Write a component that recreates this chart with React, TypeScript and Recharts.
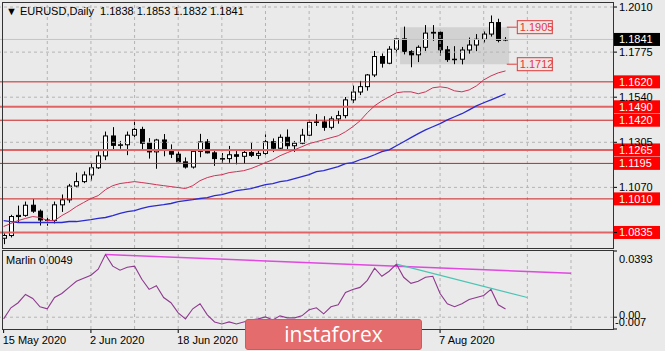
import React from "react";
import {
  ComposedChart,
  Bar,
  Line,
  XAxis,
  YAxis,
  ReferenceLine,
  ReferenceArea,
  ReferenceDot,
} from "recharts";

// EURUSD daily bars, 15 May .. 20 Aug 2020
const dates = [
  "15 May", "18 May", "19 May", "20 May", "21 May", "22 May", "25 May", "26 May", "27 May", "28 May",
  "29 May", "1 Jun", "2 Jun", "3 Jun", "4 Jun", "5 Jun", "8 Jun", "9 Jun", "10 Jun", "11 Jun",
  "12 Jun", "15 Jun", "16 Jun", "17 Jun", "18 Jun", "19 Jun", "22 Jun", "23 Jun", "24 Jun", "25 Jun",
  "26 Jun", "29 Jun", "30 Jun", "1 Jul", "2 Jul", "3 Jul", "6 Jul", "7 Jul", "8 Jul", "9 Jul",
  "10 Jul", "13 Jul", "14 Jul", "15 Jul", "16 Jul", "17 Jul", "20 Jul", "21 Jul", "22 Jul", "23 Jul",
  "24 Jul", "27 Jul", "28 Jul", "29 Jul", "30 Jul", "31 Jul", "3 Aug", "4 Aug", "5 Aug", "6 Aug",
  "7 Aug", "10 Aug", "11 Aug", "12 Aug", "13 Aug", "14 Aug", "17 Aug", "18 Aug", "19 Aug", "20 Aug",
];

const opens = [
  1.0805, 1.0819, 1.0918, 1.0924, 1.0977, 1.0946, 1.09, 1.0898, 1.0979, 1.1005,
  1.1077, 1.11, 1.1135, 1.1172, 1.1234, 1.1338, 1.1289, 1.1292, 1.1342, 1.1372,
  1.13, 1.1255, 1.1317, 1.1263, 1.1243, 1.1203, 1.1176, 1.1258, 1.1307, 1.125,
  1.122, 1.122, 1.124, 1.1232, 1.1252, 1.1237, 1.1247, 1.1308, 1.1274, 1.1331,
  1.1287, 1.13, 1.1342, 1.1409, 1.1411, 1.1383, 1.1427, 1.1444, 1.1526, 1.1567,
  1.1595, 1.1656, 1.1752, 1.1717, 1.179, 1.1844, 1.1778, 1.1761, 1.18, 1.1874,
  1.1878, 1.1787, 1.1736, 1.1738, 1.1786, 1.1812, 1.1842, 1.1869, 1.1929, 1.1838,
];
const highs = [
  1.0831, 1.0927, 1.0975, 1.0996, 1.1008, 1.0955, 1.0913, 1.0996, 1.1033, 1.1088,
  1.1147, 1.1153, 1.1197, 1.1258, 1.1361, 1.1384, 1.1312, 1.1361, 1.1422, 1.1386,
  1.1327, 1.1323, 1.1348, 1.1294, 1.1259, 1.1226, 1.127, 1.1349, 1.1322, 1.1263,
  1.1249, 1.1286, 1.1259, 1.127, 1.1303, 1.126, 1.1346, 1.1325, 1.1346, 1.1372,
  1.1312, 1.1375, 1.1421, 1.1452, 1.1441, 1.144, 1.1469, 1.1541, 1.1601, 1.1625,
  1.1661, 1.1781, 1.1768, 1.1806, 1.1846, 1.1908, 1.1785, 1.181, 1.1916, 1.1916,
  1.1885, 1.1807, 1.1806, 1.1802, 1.1851, 1.1869, 1.1883, 1.1966, 1.1949, 1.1853,
];
const lows = [
  1.0774, 1.0809, 1.0886, 1.0917, 1.0937, 1.0871, 1.087, 1.0882, 1.0942, 1.099,
  1.1067, 1.1092, 1.1105, 1.1166, 1.1212, 1.127, 1.1271, 1.1238, 1.1322, 1.1266,
  1.122, 1.1167, 1.1232, 1.1223, 1.1197, 1.1168, 1.1168, 1.1227, 1.1247, 1.1182,
  1.1198, 1.1198, 1.119, 1.1192, 1.1228, 1.1218, 1.124, 1.1254, 1.1262, 1.127,
  1.1255, 1.1295, 1.1337, 1.139, 1.1365, 1.1372, 1.1402, 1.143, 1.151, 1.1551,
  1.1574, 1.1645, 1.1694, 1.1712, 1.1754, 1.1763, 1.1696, 1.1723, 1.1781, 1.1834,
  1.1755, 1.1724, 1.1712, 1.1711, 1.1767, 1.178, 1.1825, 1.1856, 1.1826, 1.1832,
];
const closes = [
  1.0819, 1.0918, 1.0924, 1.0977, 1.0946, 1.09, 1.0898, 1.0979, 1.1005, 1.1077,
  1.11, 1.1135, 1.1172, 1.1234, 1.1338, 1.1289, 1.1292, 1.1342, 1.1372, 1.13,
  1.1255, 1.1317, 1.1263, 1.1243, 1.1203, 1.1176, 1.1258, 1.1307, 1.125, 1.122,
  1.122, 1.124, 1.1232, 1.1252, 1.1237, 1.1247, 1.1308, 1.1274, 1.1331, 1.1287,
  1.13, 1.1342, 1.1409, 1.1411, 1.1383, 1.1427, 1.1444, 1.1526, 1.1567, 1.1595,
  1.1656, 1.1752, 1.1717, 1.179, 1.1844, 1.1778, 1.1761, 1.18, 1.1874, 1.1878,
  1.1787, 1.1736, 1.1738, 1.1786, 1.1812, 1.1842, 1.1869, 1.1929, 1.1836, 1.1841,
];

// moving averages as drawn on the chart (red = fast, blue = slow)
const maFast = [
  1.0866, 1.0882, 1.0897, 1.0908, 1.0918, 1.0913, 1.0897, 1.0897, 1.0923, 1.0944,
  1.097, 1.0991, 1.1012, 1.1027, 1.1058, 1.1079, 1.109, 1.1095, 1.11, 1.1095,
  1.109, 1.1084, 1.1079, 1.1074, 1.1069, 1.1064, 1.1079, 1.1105, 1.1121, 1.1131,
  1.1136, 1.1147, 1.1152, 1.1157, 1.1168, 1.1183, 1.1199, 1.1214, 1.1235, 1.1251,
  1.1266, 1.1282, 1.1298, 1.1308, 1.1318, 1.1329, 1.1339, 1.136, 1.1386, 1.1417,
  1.1459, 1.1495, 1.1521, 1.1542, 1.1563, 1.1568, 1.1568, 1.1558, 1.1568, 1.1589,
  1.1594, 1.1589, 1.1573, 1.1568, 1.1578, 1.1599, 1.163, 1.1651, 1.1667, 1.1677,
];
const maSlow = [
  1.0897, 1.0892, 1.0887, 1.0887, 1.0887, 1.0887, 1.0887, 1.0887, 1.0887, 1.0892,
  1.0892, 1.0897, 1.0902, 1.0908, 1.0913, 1.0923, 1.0934, 1.0944, 1.0949, 1.096,
  1.097, 1.0975, 1.098, 1.0986, 1.0996, 1.1001, 1.1006, 1.1012, 1.1017, 1.1027,
  1.1032, 1.1043, 1.1053, 1.1058, 1.1064, 1.1074, 1.1084, 1.109, 1.11, 1.1105,
  1.1116, 1.1126, 1.1136, 1.1152, 1.1157, 1.1168, 1.1178, 1.1194, 1.1199, 1.1214,
  1.1225, 1.124, 1.1256, 1.1266, 1.1287, 1.1308, 1.1329, 1.135, 1.137, 1.1386,
  1.1402, 1.1422, 1.1438, 1.1454, 1.1474, 1.1495, 1.1511, 1.1526, 1.1542, 1.1558,
];

const marlin = [
  -0.001, 0.0056, 0.0086, 0.0135, 0.0111, 0.0062, 0.005, 0.0117, 0.0141, 0.0177,
  0.0213, 0.0231, 0.0249, 0.0285, 0.0372, 0.0303, 0.0279, 0.0297, 0.0303, 0.0225,
  0.0165, 0.0187, 0.0117, 0.0086, 0.0026, -0.001, 0.005, 0.008, 0.0014, -0.0028,
  -0.004, -0.0028, -0.004, -0.0028, -0.0016, -0.001, 0.0002, -0.0016, 0.0008, -0.0004,
  -0.0004, 0.0008, 0.0044, 0.0056, 0.002, 0.0062, 0.0074, 0.0147, 0.0165, 0.0177,
  0.0219, 0.0291, 0.0243, 0.0273, 0.0315, 0.0237, 0.0201, 0.0213, 0.0237, 0.0243,
  0.0141, 0.008, 0.0062, 0.008, 0.0105, 0.0117, 0.0129, 0.0165, 0.0074, 0.0049,
];

const priceTicks = [1.201, 1.1775, 1.154, 1.1305, 1.107, 1.0835];
const thinLevels = [1.162, 1.142, 1.1195, 1.101];
const thickLevels = [1.149, 1.1265, 1.0835];
const lastPrice = 1.1841;
const rangeTop = 1.1905;
const rangeBottom = 1.1712;
const marlinTicks = [0.0393, 0, -0.007];
const magentaTrend = [{ x: 14, y: 0.0372 }, { x: 78, y: 0.0261 }];
const cyanTrend = [{ x: 54, y: 0.0315 }, { x: 72, y: 0.0117 }];

const SLOTS = 84;
// labels at 6 Jul and 22 Jul sit under the logo in the original, so only these show
const dateTicks = [0, 12, 24, 60];
const gridX = [6, 12, 18, 24, 30, 36, 42, 48, 54, 60, 66, 72, 78];

const rows = Array.from({ length: SLOTS }, (_, i) => ({
  i,
  o: opens[i],
  h: highs[i],
  l: lows[i],
  c: closes[i],
  fast: maFast[i],
  slow: maSlow[i],
  marlin: marlin[i],
}));

const FONT = "'Liberation Sans', Arial, sans-serif";
const BG = "#EAEAEA";
const GRID = "#B4B4B4";

function Candle(props: any) {
  const { x, y, width, height, payload } = props;
  if (payload == null || payload.o == null || !height) return <g />;
  const { o, h, l, c } = payload;
  const k = height / (h - l);
  const cx = Math.round(x + width / 2) + 0.5;
  const yo = y + (h - o) * k;
  const yc = y + (h - c) * k;
  const top = Math.min(yo, yc);
  const bh = Math.max(Math.abs(yc - yo), 0.5);
  const up = c >= o;
  return (
    <g>
      <line x1={cx} x2={cx} y1={y} y2={y + height} stroke="#000" strokeWidth={1} />
      <rect x={cx - 2} y={top} width={4} height={bh} fill={up ? "#fff" : "#000"} stroke="#000" strokeWidth={1} />
    </g>
  );
}

const axisBox = (text: string, bg: string) => (props: any) => {
  const vb = props.viewBox;
  const x = vb.x + vb.width;
  return (
    <g>
      <rect x={x} y={vb.y - 6.5} width={47} height={13} fill={bg} />
      <text x={x + 6} y={vb.y + 4} fill="#fff" fontSize={11} fontFamily={FONT}>
        {text}
      </text>
    </g>
  );
};

const PriceTick = (props: any) => {
  const { x, y, payload } = props;
  if (payload.value === 1.0835) return <g />;
  return (
    <text x={x} y={y + 4} fill="#000" fontSize={11} fontFamily={FONT}>
      {payload.value.toFixed(4)}
    </text>
  );
};

const MarlinTick = (props: any) => {
  const { x, y, payload } = props;
  const v = payload.value;
  let label = v.toFixed(4);
  let dy = 12;
  let dx = 0;
  if (v === 0) {
    label = "0.00";
    dy = 2;
  } else if (v < 0) {
    label = "-0.007";
    dy = -3;
    dx = -4;
  }
  return (
    <text x={x + dx} y={y + dy} fill="#000" fontSize={11} fontFamily={FONT}>
      {label}
    </text>
  );
};

const DateTick = (props: any) => {
  const { x, y, payload } = props;
  return (
    <text x={x - 1} y={y + 9} fill="#000" fontSize={11} fontFamily={FONT}>
      {dates[payload.value] + " 2020"}
    </text>
  );
};

const rangeTag = (text: string) => (props: any) => {
  const { cx, cy } = props;
  return (
    <g>
      <line x1={cx - 6} x2={cx + 4} y1={cy} y2={cy} stroke="#E03A3A" />
      <rect x={cx + 4.5} y={cy - 6.5} width={35} height={13} fill="#EFE6E6" stroke="#E03A3A" />
      <text x={cx + 7} y={cy + 4} fill="#E03A3A" fontSize={11} fontFamily={FONT}>
        {text}
      </text>
    </g>
  );
};

export default function App() {
  return (
    <div style={{ position: "relative", width: 665, height: 351, background: BG, overflow: "hidden" }}>
      <style>{"body{margin:0}"}</style>

      <div style={{ position: "absolute", left: 0, top: 0 }}>
        <ComposedChart width={665} height={250} data={rows} margin={{ top: 3, right: 0, left: 0, bottom: 2 }}>
          <XAxis dataKey="i" type="category" scale="band" hide padding={{ left: 0, right: 2 }} />
          <YAxis
            orientation="right"
            width={52}
            domain={[1.0754, 1.2031]}
            allowDataOverflow
            ticks={priceTicks}
            interval={0}
            tick={<PriceTick />}
            tickSize={4}
            tickMargin={2}
            tickLine={{ stroke: "#000" }}
            axisLine={false}
          />
          {priceTicks.map((p) => (
            <ReferenceLine key={"h" + p} y={p} stroke={GRID} strokeDasharray="3 3" />
          ))}
          {gridX.map((g) => (
            <ReferenceLine key={"v" + g} x={g} stroke={GRID} strokeDasharray="3 3" />
          ))}
          <ReferenceArea x1={55} x2={69} y1={rangeBottom} y2={rangeTop} fill="#D2D2D2" fillOpacity={1} stroke="none" />
          <ReferenceLine y={lastPrice} stroke="#C4C4C4" label={axisBox(lastPrice.toFixed(4), "#000")} />
          {thinLevels.map((p) => (
            <ReferenceLine key={"t" + p} y={p} stroke="#CC2222" strokeWidth={1} label={axisBox(p.toFixed(4), "#FF0000")} />
          ))}
          {thickLevels.map((p) => (
            <ReferenceLine key={"k" + p} y={p} stroke="#E06464" strokeWidth={2} label={axisBox(p.toFixed(4), "#FF0000")} />
          ))}
          <Line dataKey="slow" stroke="#2B2BD0" strokeWidth={1.3} dot={false} activeDot={false} isAnimationActive={false} />
          <Line dataKey="fast" stroke="#CC3355" strokeWidth={1} dot={false} activeDot={false} isAnimationActive={false} />
          <Bar
            dataKey={(d: any) => (d.h == null ? null : [d.l, d.h])}
            barSize={5}
            shape={<Candle />}
            isAnimationActive={false}
          />
          <ReferenceDot x={70} y={rangeTop} r={0} shape={rangeTag(rangeTop.toFixed(4))} />
          <ReferenceDot x={70} y={rangeBottom} r={0} shape={rangeTag(rangeBottom.toFixed(4))} />
        </ComposedChart>
      </div>

      <div style={{ position: "absolute", left: 0, top: 247 }}>
        <ComposedChart width={665} height={104} data={rows} margin={{ top: 4, right: 0, left: 0, bottom: 0 }}>
          <XAxis
            dataKey="i"
            type="category"
            scale="band"
            padding={{ left: 0, right: 2 }}
            ticks={dateTicks}
            interval={0}
            height={22}
            tick={<DateTick />}
            tickSize={4}
            tickMargin={2}
            tickLine={{ stroke: "#000" }}
            axisLine={false}
          />
          <YAxis
            orientation="right"
            width={52}
            domain={[-0.007, 0.0393]}
            allowDataOverflow
            ticks={marlinTicks}
            interval={0}
            tick={<MarlinTick />}
            tickSize={4}
            tickMargin={2}
            tickLine={{ stroke: "#000" }}
            axisLine={false}
          />
          {gridX.map((g) => (
            <ReferenceLine key={"mv" + g} x={g} stroke={GRID} strokeDasharray="3 3" />
          ))}
          <ReferenceLine y={0} stroke={GRID} strokeDasharray="3 3" />
          <ReferenceLine segment={magentaTrend} stroke="#E048E0" strokeWidth={1.5} />
          <ReferenceLine segment={cyanTrend} stroke="#4CC4B4" strokeWidth={1.2} />
          <Line dataKey="marlin" stroke="#8E3A8E" strokeWidth={1.1} dot={false} activeDot={false} isAnimationActive={false} />
        </ComposedChart>
      </div>

      {/* pane frames */}
      <div style={{ position: "absolute", left: 2, top: 2, width: 612, height: 247, boxSizing: "border-box", border: "1px solid #333", pointerEvents: "none" }} />
      <div style={{ position: "absolute", left: 2, top: 250, width: 612, height: 80, boxSizing: "border-box", border: "1px solid #333", pointerEvents: "none" }} />

      <div style={{ position: "absolute", left: 6, top: 5, fontFamily: FONT, fontSize: 11, color: "#000", whiteSpace: "pre" }}>
        {"▼ EURUSD,Daily  1.1838 1.1853 1.1832 1.1841"}
      </div>
      <div style={{ position: "absolute", left: 6, top: 254, fontFamily: FONT, fontSize: 11, color: "#000" }}>
        Marlin 0.0049
      </div>

      <div
        style={{
          position: "absolute",
          left: 245,
          top: 319,
          width: 177,
          height: 31,
          boxSizing: "border-box",
          background: "#E46C6C",
          border: "1px solid #CF5A5A",
          borderRadius: 3,
          color: "#fff",
          fontFamily: "'Open Sans', sans-serif",
          fontSize: 21,
          lineHeight: "28px",
          textAlign: "center",
        }}
      >
        instaforex
      </div>
    </div>
  );
}
